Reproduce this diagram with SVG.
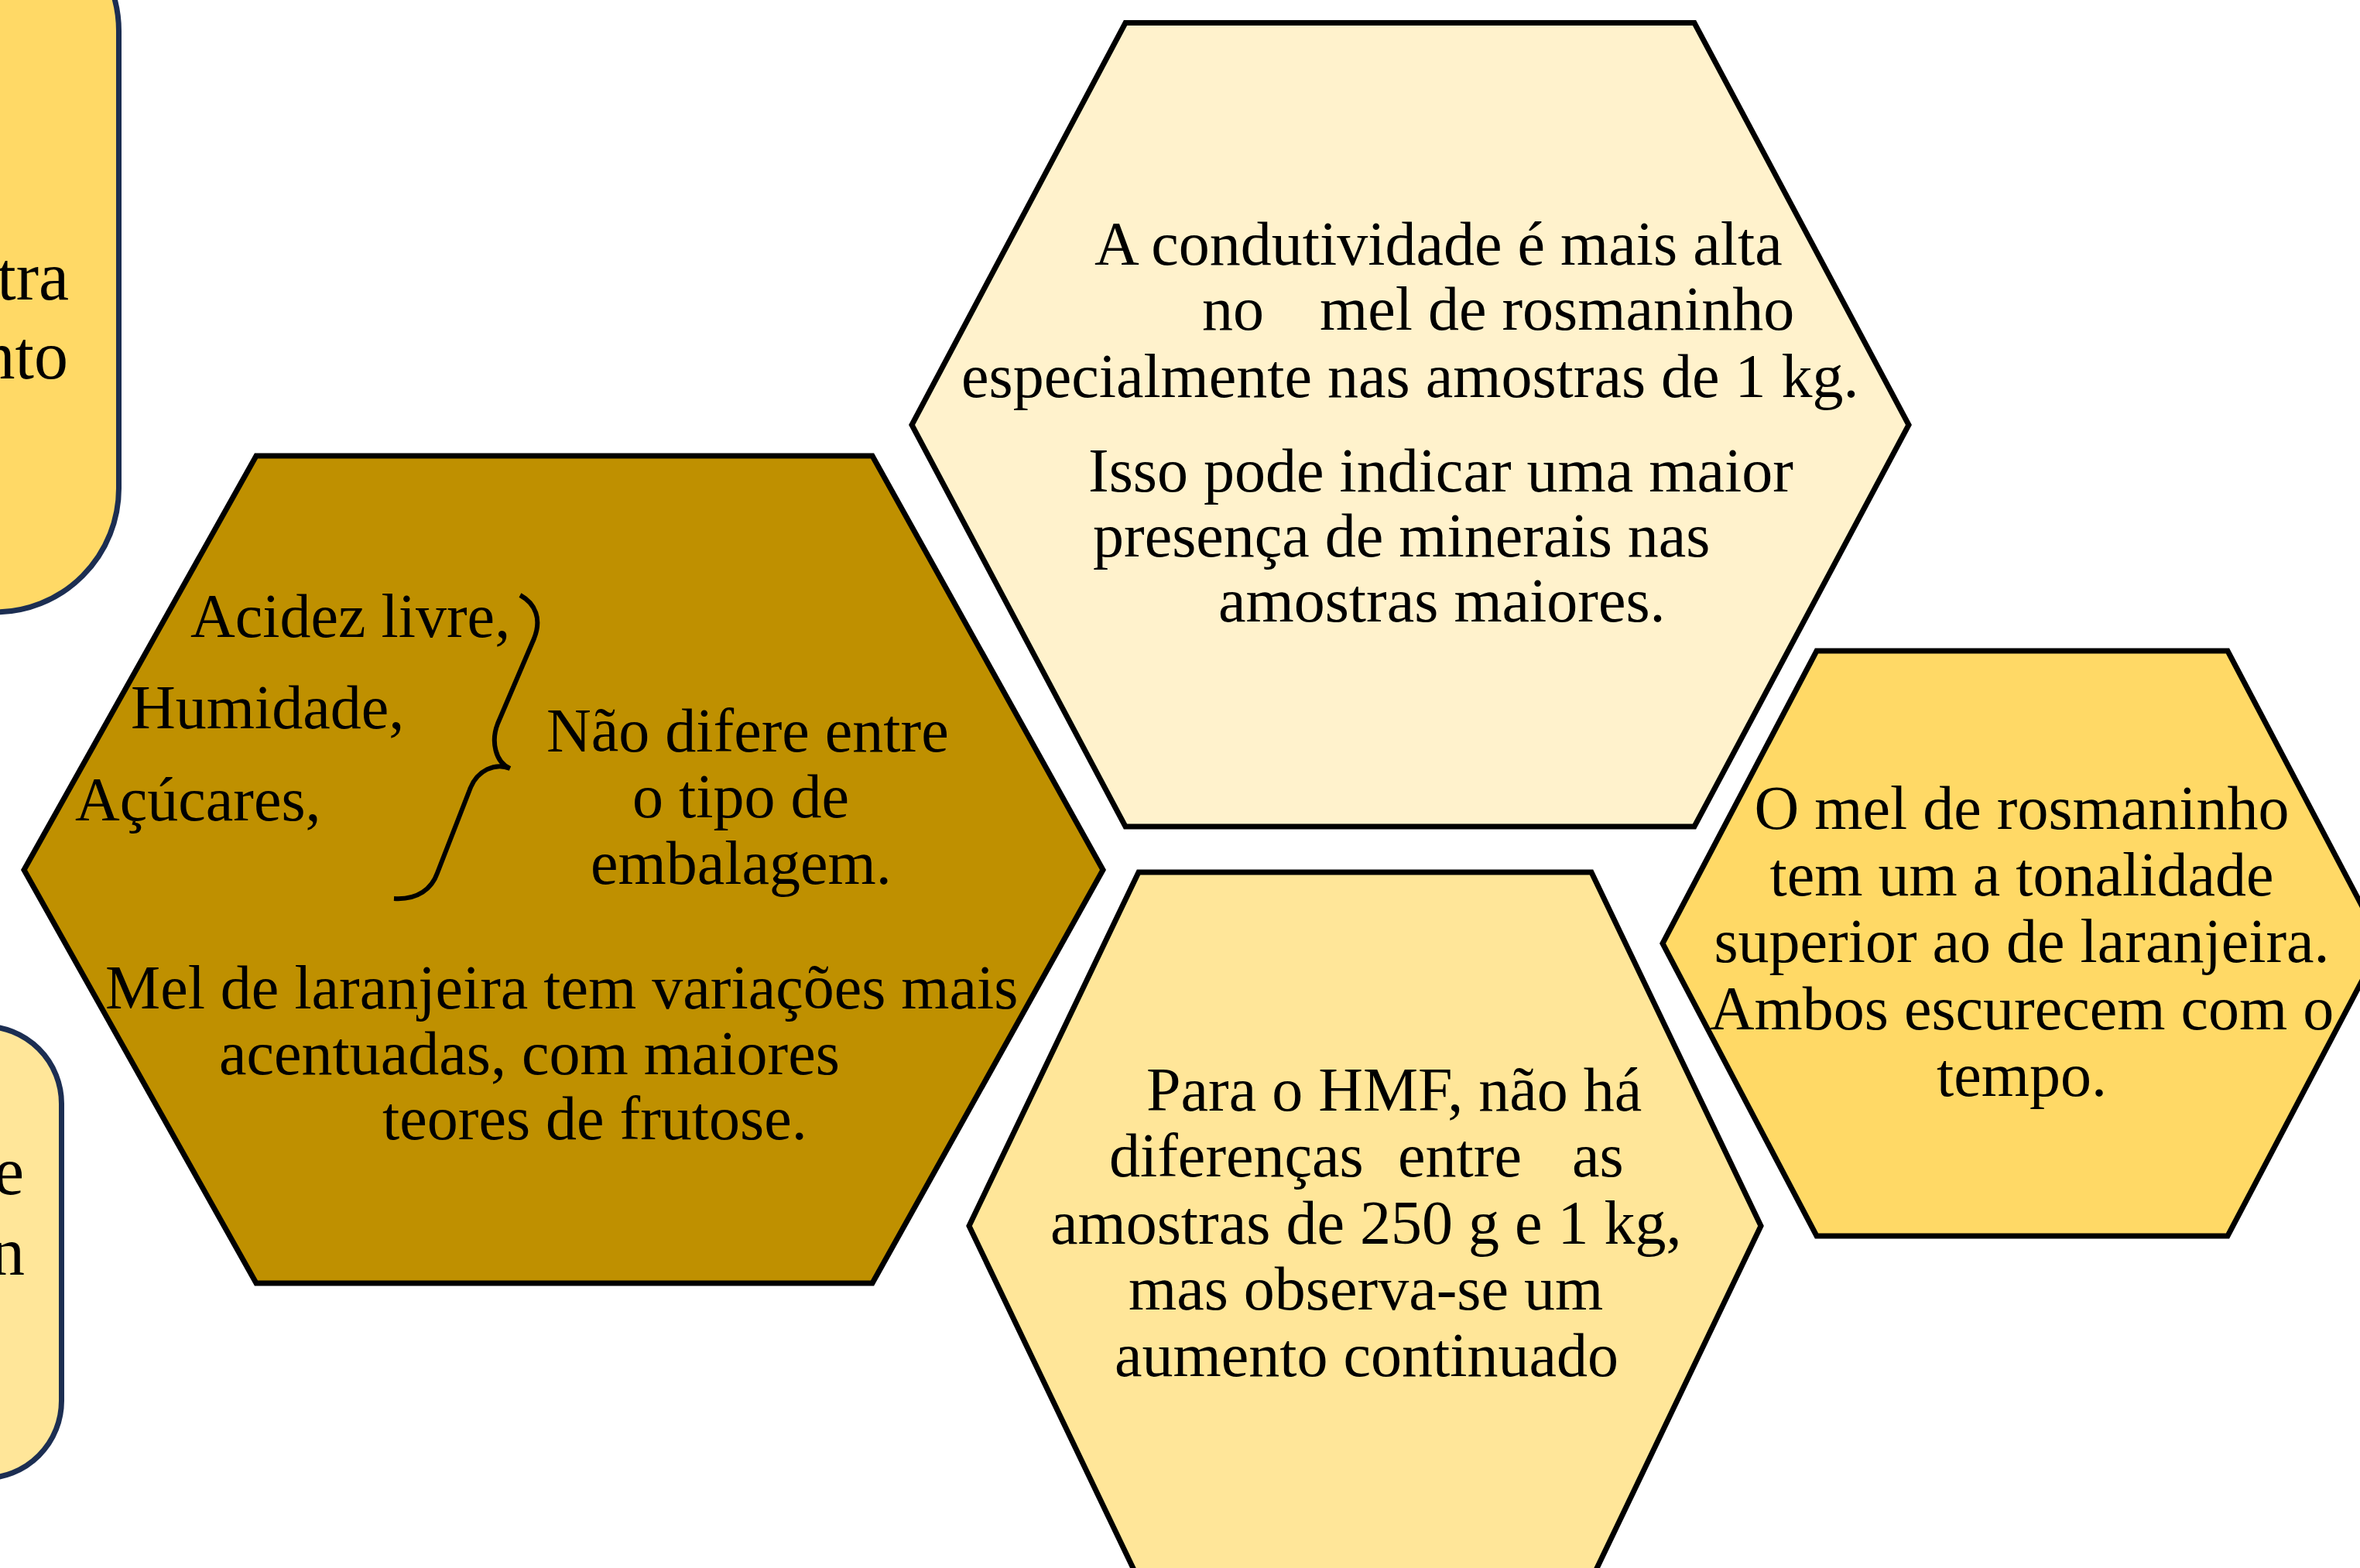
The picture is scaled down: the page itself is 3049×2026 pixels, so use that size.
<svg xmlns="http://www.w3.org/2000/svg" width="3049" height="2026" viewBox="0 0 3049 2026">
<style>
text{font-family:"Liberation Serif","Times New Roman",serif;fill:#000;}
.t{font-size:80px;}
.tl{font-size:88px;text-anchor:end;}
.hex{stroke:#000;stroke-width:7;stroke-linejoin:miter;}
.box{stroke:#1C2E52;stroke-width:7;}
.mid{text-anchor:middle;}
</style>
<rect width="3049" height="2026" fill="#FFFFFF"/>
<g id="box-top-left">
<rect class="box" x="-300" y="-120" width="453.5" height="911" rx="160" ry="160" fill="#FFD966"/>
<text class="tl" x="89" y="387">stra</text>
<text class="tl" x="88" y="489">nto</text>
</g>
<g id="box-bottom-left">
<rect class="box" x="-400" y="1326" width="479.5" height="584" rx="100" ry="100" fill="#FFE699"/>
<text class="tl" x="31" y="1543">e</text>
<text class="tl" x="32" y="1647">n</text>
</g>
<g id="hex-top">
<polygon class="hex" fill="#FFF2CC" points="1454,29.5 2189,29.5 2466,549 2189,1068 1454,1068 1178,549"/>
<text class="t" x="1414" y="342">A condutividade é mais alta</text>
<text class="t" y="426"><tspan x="1553">no</tspan><tspan x="1705">mel de rosmaninho</tspan></text>
<text class="t" x="1242" y="513">especialmente nas amostras de 1 kg.</text>
<text class="t" x="1406" y="635">Isso pode indicar uma maior</text>
<text class="t" x="1412" y="719">presença de minerais nas</text>
<text class="t" x="1574" y="803">amostras maiores.</text>
</g>
<g id="hex-left">
<polygon class="hex" fill="#BF9000" points="331,589 1127,589 1425,1124 1127,1658 331,1658 31,1124"/>
<text class="t" x="246" y="823">Acidez livre,</text>
<text class="t" x="169" y="941">Humidade,</text>
<text class="t" x="97" y="1060">Açúcares,</text>
<path d="M 672 769 C 692 780, 700 800, 690 825 L 643 935 C 634 958, 640 985, 659 993 C 640 985, 616 995, 607 1020 L 565 1128 C 558 1148, 540 1163, 509 1161" fill="none" stroke="#000" stroke-width="6" stroke-linecap="butt"/>
<text class="t" x="706" y="971">Não difere entre</text>
<text class="t" x="817" y="1056">o tipo de</text>
<text class="t" x="763" y="1142">embalagem.</text>
<text class="t" x="136" y="1303">Mel de laranjeira tem variações mais</text>
<text class="t" x="283" y="1388">acentuadas, com maiores</text>
<text class="t" x="494" y="1472">teores de frutose.</text>
</g>
<g id="hex-bottom">
<polygon class="hex" fill="#FFE699" points="1471,1127 2056,1127 2275,1584 2056,2041 1471,2041 1252,1584"/>
<text class="t" x="1481" y="1435">Para o HMF, não há</text>
<text class="t" y="1520"><tspan x="1433">diferenças</tspan><tspan x="1806">entre</tspan><tspan x="2031">as</tspan></text>
<text class="t" x="1357" y="1607">amostras de 250 g e 1 kg,</text>
<text class="t" x="1458" y="1692">mas observa-se um</text>
<text class="t" x="1440" y="1778">aumento continuado</text>
</g>
<g id="hex-right">
<polygon class="hex" fill="#FFD966" points="2347,841 2878,841 3077,1219 2878,1597 2347,1597 2148,1219"/>
<text class="t mid" x="2612" y="1071">O mel de rosmaninho</text>
<text class="t mid" x="2612" y="1157">tem um a tonalidade</text>
<text class="t mid" x="2612" y="1243">superior ao de laranjeira.</text>
<text class="t mid" x="2612" y="1330">Ambos escurecem com o</text>
<text class="t mid" x="2612" y="1416">tempo.</text>
</g>
<g id="connectors"/>
</svg>
